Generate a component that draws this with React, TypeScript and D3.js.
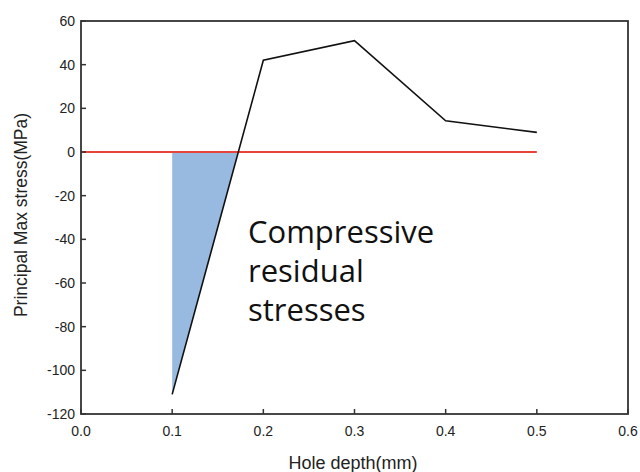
import * as d3 from "d3";

const depths = [0.1, 0.2, 0.3, 0.4, 0.5];
const stresses = [-111, 42, 51, 14.3, 9];
const xTicks = [0, 0.1, 0.2, 0.3, 0.4, 0.5, 0.6];
const yTicks = [60, 40, 20, 0, -20, -40, -60, -80, -100, -120];
const noteLines = ["Compressive", "residual", "stresses"];

export default function App() {
  const width = 640;
  const height = 472;
  const m = { top: 21, right: 12, bottom: 58, left: 81 };

  const x = d3.scaleLinear().domain([0, 0.6]).range([m.left, width - m.right]);
  const y = d3.scaleLinear().domain([-120, 60]).range([height - m.bottom, m.top]);

  const pts: [number, number][] = depths.map((d, i) => [d, stresses[i]]);
  const line = d3
    .line<[number, number]>()
    .x((d) => x(d[0]))
    .y((d) => y(d[1]));

  // zero crossing between first two points
  const x0 =
    depths[0] +
    ((depths[1] - depths[0]) * (0 - stresses[0])) / (stresses[1] - stresses[0]);
  const area = d3
    .area<[number, number]>()
    .x((d) => x(d[0]))
    .y0(y(0))
    .y1((d) => y(d[1]));
  const fillPts: [number, number][] = [
    [depths[0], stresses[0]],
    [x0, 0],
  ];

  const axisColor = "#333";
  const font = "'Liberation Sans', Arial, sans-serif";

  return (
    <svg
      width={width}
      height={height}
      style={{ display: "block", position: "absolute", left: 0, top: 0, background: "#fff" }}
    >
      <path d={area(fillPts) ?? ""} fill="#98b9e0" />
      <line
        x1={x(0)}
        x2={x(0.5)}
        y1={y(0)}
        y2={y(0)}
        stroke="#e8443a"
        strokeWidth={2}
      />
      <path d={line(pts) ?? ""} fill="none" stroke="#111" strokeWidth={1.6} />

      <rect
        x={m.left}
        y={m.top}
        width={width - m.left - m.right}
        height={height - m.top - m.bottom}
        fill="none"
        stroke={axisColor}
        strokeWidth={1.8}
      />
      {xTicks.map((t) => (
        <g key={`x${t}`}>
          <line x1={x(t)} x2={x(t)} y1={y(-120)} y2={y(-120) - 5} stroke={axisColor} strokeWidth={1.5} />
          <text
            x={x(t)}
            y={y(-120) + 22}
            textAnchor="middle"
            fontFamily={font}
            fontSize={14}
            fill="#222"
          >
            {t.toFixed(1)}
          </text>
        </g>
      ))}
      {yTicks.map((t) => (
        <g key={`y${t}`}>
          <line x1={m.left} x2={m.left + 5} y1={y(t)} y2={y(t)} stroke={axisColor} strokeWidth={1.5} />
          <text
            x={m.left - 6}
            y={y(t) + 5}
            textAnchor="end"
            fontFamily={font}
            fontSize={14}
            fill="#222"
          >
            {t}
          </text>
        </g>
      ))}
      <text
        x={353}
        y={469}
        textAnchor="middle"
        fontFamily={font}
        fontSize={18}
        fill="#222"
      >
        Hole depth(mm)
      </text>
      <text
        transform={`translate(27, 215) rotate(-90)`}
        textAnchor="middle"
        fontFamily={font}
        fontSize={17.5}
        fill="#222"
      >
        Principal Max stress(MPa)
      </text>
      {noteLines.map((s, i) => (
        <text
          key={s}
          x={248}
          y={243 + i * 39}
          fontFamily="'Open Sans', 'Noto Sans', sans-serif"
          fontSize={31}
          fill="#111"
        >
          {s}
        </text>
      ))}
    </svg>
  );
}
